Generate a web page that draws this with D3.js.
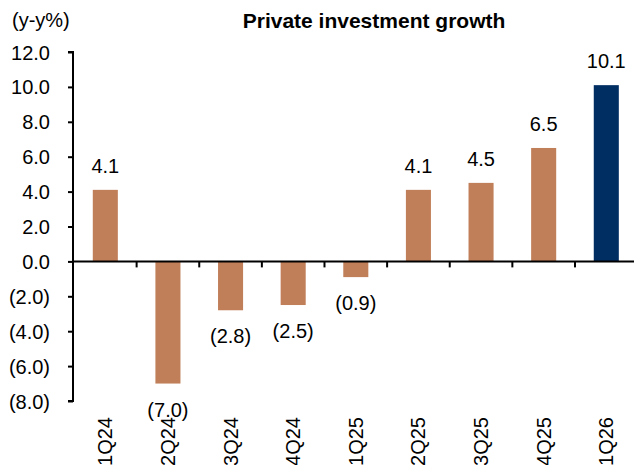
<!DOCTYPE html>
<html>
<head>
<meta charset="utf-8">
<script src="https://cdn.jsdelivr.net/npm/d3@7"></script>
<style>
  body { margin: 0; background: #fff; }
  text { font-family: "Liberation Sans", Arial, sans-serif; fill: #000; }
</style>
</head>
<body>
<script>
// quarters and y-y growth (%)
let categories = ["1Q24", "2Q24", "3Q24", "4Q24", "1Q25", "2Q25", "3Q25", "4Q25", "1Q26"];
let values = [4.1, -7.0, -2.8, -2.5, -0.9, 4.1, 4.5, 6.5, 10.1];
let yTicks = [-8, -6, -4, -2, 0, 2, 4, 6, 8, 10, 12];

let width = 634;
let height = 465;

let svg = d3.select("body").append("svg")
    .attr("width", width)
    .attr("height", height);

// format like the source: negatives in brackets, one decimal
let fmt = v => v < 0 ? "(" + d3.format(".1f")(-v) + ")" : d3.format(".1f")(v);

let x = d3.scaleBand()
    .domain(categories)
    .range([74, 637.6])
    .paddingInner(0.6)
    .paddingOuter(0.3);

let y = d3.scaleLinear()
    .domain([-8, 12])
    .range([401, 52]);

// bars
svg.append("g").selectAll("rect")
    .data(values)
    .join("rect")
    .attr("x", (d, i) => x(categories[i]))
    .attr("width", x.bandwidth())
    .attr("y", d => y(Math.max(0, d)))
    .attr("height", d => Math.abs(y(d) - y(0)))
    .attr("fill", (d, i) => i === categories.length - 1 ? "#002d62" : "#c17f59");

// value labels
svg.append("g").selectAll("text")
    .data(values)
    .join("text")
    .attr("x", (d, i) => x(categories[i]) + x.bandwidth() / 2)
    .attr("y", d => d >= 0 ? y(d) - 17 : y(d) + 33)
    .attr("text-anchor", "middle")
    .style("font-size", "20px")
    .text(d => fmt(d));

// y axis
let yAxis = d3.axisLeft(y)
    .tickValues(yTicks)
    .tickSize(5)
    .tickFormat(fmt);
let yAxisGroup = svg.append("g")
    .attr("transform", "translate(73,0)")
    .call(yAxis);
yAxisGroup.select(".domain").attr("stroke", "#000").attr("stroke-width", 2)
    .attr("d", "M-5," + y(12) + "H0V" + y(-8) + "H-5");
yAxisGroup.selectAll(".tick line").attr("stroke", "#000").attr("stroke-width", 2);
yAxisGroup.selectAll(".tick text")
    .style("font-size", "20px")
    .attr("x", -23)
    .attr("dy", "0.35em");

// zero line with category separators
let step = x.step();
let seps = categories.slice(1).map(c => x(c) - step * x.paddingInner() / 2);
let zeroGroup = svg.append("g");
zeroGroup.append("line")
    .attr("x1", 73).attr("x2", width)
    .attr("y1", y(0)).attr("y2", y(0))
    .attr("stroke", "#000").attr("stroke-width", 2);
zeroGroup.selectAll("line.sep")
    .data(seps)
    .join("line")
    .attr("class", "sep")
    .attr("x1", d => d).attr("x2", d => d)
    .attr("y1", y(0)).attr("y2", y(0) + 6)
    .attr("stroke", "#000").attr("stroke-width", 2);

// rotated category labels
svg.append("g").selectAll("text")
    .data(categories)
    .join("text")
    .attr("transform", d => "translate(" + (x(d) + x.bandwidth() / 2 + 7) + ",417) rotate(-90)")
    .attr("text-anchor", "end")
    .style("font-size", "20px")
    .text(d => d);

// title and unit
svg.append("text")
    .attr("x", 374)
    .attr("y", 28)
    .attr("text-anchor", "middle")
    .style("font-size", "21px")
    .style("font-weight", "bold")
    .text("Private investment growth");

svg.append("text")
    .attr("x", 12)
    .attr("y", 27)
    .style("font-size", "20px")
    .text("(y-y%)");
</script>
</body>
</html>
